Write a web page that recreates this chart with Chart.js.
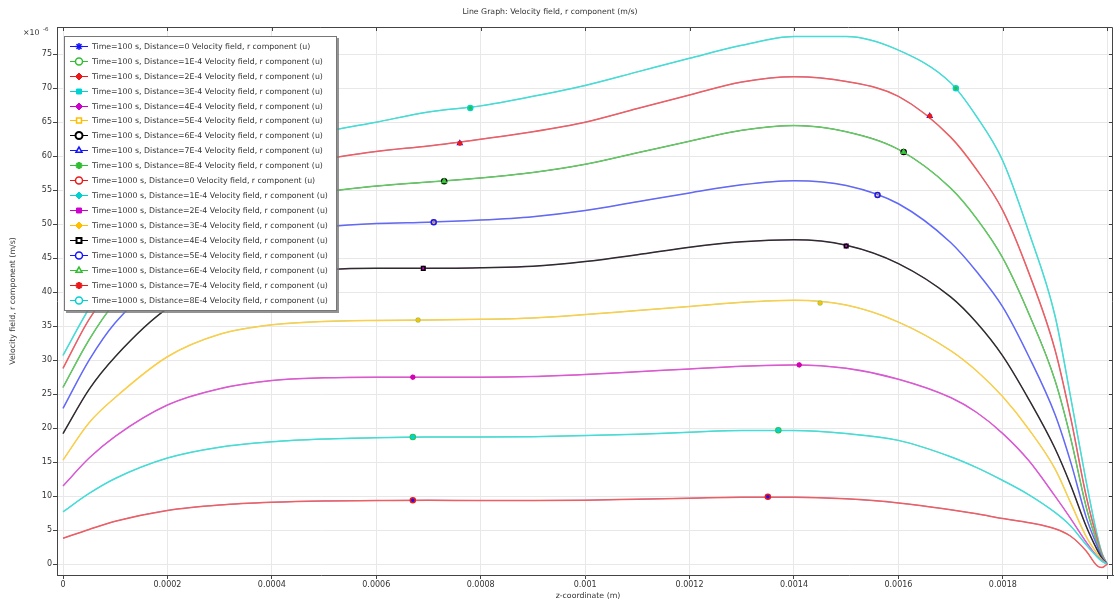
<!DOCTYPE html>
<html><head><meta charset="utf-8">
<script src="https://cdn.jsdelivr.net/npm/chart.js@4.4.1/dist/chart.umd.min.js"></script>
<style>html,body{margin:0;padding:0;background:#fff;}#wrap{width:1117px;height:603px;position:relative;}</style>
</head><body><div id="wrap"><canvas id="c" width="1117" height="603"></canvas></div>
<script>
// ---------- data (values in units of 1e-6 m/s) ----------
const zGrid = [0, 0.00005, 0.0001, 0.0002, 0.0003, 0.0004, 0.0005, 0.0006, 0.0007, 0.0008, 0.0009, 0.001, 0.0011, 0.0012, 0.0013, 0.0014, 0.0015, 0.0016, 0.0017, 0.00175, 0.0018, 0.00185, 0.0019, 0.00193, 0.00196, 0.00198, 0.00199, 0.002];
const curveD0 = [3.8, 5.1, 6.3, 7.9, 8.7, 9.1, 9.3, 9.35, 9.4, 9.35, 9.35, 9.4, 9.55, 9.7, 9.85, 9.85, 9.6, 9.0, 8.0, 7.4, 6.7, 6.1, 5.2, 4.1, 1.9, -0.2, -0.5, 0];
const curveD1 = [7.7, 10.4, 12.6, 15.6, 17.2, 18.0, 18.4, 18.6, 18.7, 18.7, 18.75, 18.9, 19.1, 19.4, 19.65, 19.65, 19.2, 18.2, 15.8, 14.2, 12.3, 10.2, 7.6, 5.6, 2.8, 1.1, 0.4, 0];
const curveD2 = [11.5, 15.6, 18.8, 23.4, 25.8, 27.0, 27.4, 27.5, 27.5, 27.5, 27.6, 27.9, 28.3, 28.7, 29.1, 29.3, 28.8, 27.2, 24.5, 22.3, 19.2, 15.2, 10.0, 6.7, 3.2, 1.2, 0.5, 0];
const curveD3 = [15.3, 20.8, 24.5, 30.5, 33.8, 35.2, 35.7, 35.85, 35.9, 36.0, 36.2, 36.7, 37.3, 37.9, 38.5, 38.8, 38.1, 35.6, 31.4, 28.4, 24.6, 19.8, 14.0, 9.0, 4.0, 1.6, 0.6, 0];
const curveD4 = [19.2, 25.7, 30.5, 37.6, 41.0, 42.7, 43.3, 43.5, 43.5, 43.6, 43.8, 44.5, 45.5, 46.6, 47.4, 47.7, 46.9, 44.2, 39.3, 35.5, 30.6, 24.2, 17.0, 11.6, 5.5, 2.2, 0.8, 0];
const curveD5 = [22.9, 30.0, 35.5, 42.5, 46.5, 48.7, 49.6, 50.1, 50.3, 50.6, 51.1, 52.0, 53.3, 54.6, 55.8, 56.4, 55.7, 53.0, 47.3, 43.0, 37.8, 30.5, 22.0, 15.0, 6.8, 2.8, 1.0, 0];
const curveD6 = [26.0, 33.0, 38.5, 45.5, 50.5, 53.2, 54.7, 55.6, 56.2, 56.8, 57.6, 58.8, 60.5, 62.2, 63.8, 64.5, 63.6, 61.0, 55.3, 50.8, 45.0, 36.8, 27.0, 18.5, 8.3, 3.3, 1.2, 0];
const curveD7 = [28.8, 36.0, 41.0, 48.5, 54.0, 57.5, 59.5, 60.7, 61.5, 62.5, 63.6, 65.0, 67.0, 69.0, 70.9, 71.7, 71.0, 68.8, 62.8, 58.0, 52.0, 42.8, 31.5, 21.5, 9.9, 3.9, 1.4, 0];
const curveD8 = [30.7, 37.6, 43.0, 51.0, 57.0, 61.0, 63.5, 65.0, 66.5, 67.4, 68.8, 70.4, 72.4, 74.4, 76.3, 77.6, 77.6, 75.6, 70.8, 65.8, 59.3, 48.8, 36.5, 24.5, 12.0, 4.5, 1.6, 0];

// marker positions along each curve (z, value)
const markZ = [[0.00067, 0.00135], [0.00067, 0.00137], [0.00067, 0.00141], [0.00068, 0.00145], [0.00069, 0.0015], [0.00071, 0.00156], [0.00073, 0.00161], [0.00076, 0.00166], [0.00078, 0.00171]];
const markV = [[9.4, 9.9], [18.7, 19.7], [27.5, 29.3], [35.9, 38.4], [43.5, 46.8], [50.3, 54.3], [56.3, 60.6], [61.9, 65.9], [67.1, 70.0]];

const times = ['100', '1000'];
const distances = ['0', '1E-4', '2E-4', '3E-4', '4E-4', '5E-4', '6E-4', '7E-4', '8E-4'];
const xTicks = [0, 0.0002, 0.0004, 0.0006, 0.0008, 0.001, 0.0012, 0.0014, 0.0016, 0.0018, 0.002];
const xTickLabels = ['0', '0.0002', '0.0004', '0.0006', '0.0008', '0.001', '0.0012', '0.0014', '0.0016', '0.0018', ''];
const yTicks = [0, 5, 10, 15, 20, 25, 30, 35, 40, 45, 50, 55, 60, 65, 70, 75];

// ---------- styles ----------
const COL = {
  blue: 'rgb(20,20,255)', green: 'rgb(50,190,50)', red: 'rgb(235,25,25)', cyan: 'rgb(0,210,210)',
  magenta: 'rgb(205,0,205)', yellow: 'rgb(255,190,0)', black: 'rgb(0,0,0)'
};
const LINECOL = {
  blue: 'rgb(95,105,255)', green: 'rgb(100,200,100)', red: 'rgb(240,95,95)', cyan: 'rgb(70,220,220)',
  magenta: 'rgb(215,90,215)', yellow: 'rgb(255,205,70)', black: 'rgb(45,45,45)'
};
const style100 = [
  {c: 'blue', p: 'star', f: true, bw: 1.5}, {c: 'green', p: 'circle', f: false, bw: 1.5},
  {c: 'red', p: 'rectRot', f: true, bw: 1}, {c: 'cyan', p: 'rect', f: true, bw: 1},
  {c: 'magenta', p: 'rectRot', f: true, bw: 1}, {c: 'yellow', p: 'rect', f: false, bw: 1.5},
  {c: 'black', p: 'circle', f: false, bw: 2}, {c: 'blue', p: 'triangle', f: false, bw: 1.5},
  {c: 'green', p: 'star', f: true, bw: 2}
];
const style1000 = [
  {c: 'red', p: 'circle', f: false, bw: 1.5}, {c: 'cyan', p: 'rectRot', f: true, bw: 1},
  {c: 'magenta', p: 'rect', f: true, bw: 1}, {c: 'yellow', p: 'rectRot', f: true, bw: 1},
  {c: 'black', p: 'rect', f: false, bw: 2}, {c: 'blue', p: 'circle', f: false, bw: 1.5},
  {c: 'green', p: 'triangle', f: false, bw: 1.5}, {c: 'red', p: 'star', f: true, bw: 2},
  {c: 'cyan', p: 'circle', f: false, bw: 1.5}
];

const curves = [curveD0, curveD1, curveD2, curveD3, curveD4, curveD5, curveD6, curveD7, curveD8];
const datasets = [];
times.forEach((t, ti) => {
  const st = ti === 0 ? style100 : style1000;
  curves.forEach((vals, di) => {
    const s = st[di];
    datasets.push({
      label: 'Time=' + t + ' s, Distance=' + distances[di] + ' Velocity field, r component (u)',
      data: zGrid.map((z, k) => ({x: z, y: vals[k]})),
      borderColor: LINECOL[s.c], backgroundColor: LINECOL[s.c], borderWidth: ti === 0 ? 0.8 : 1.5,
      pointRadius: 0, cubicInterpolationMode: 'monotone', fill: false,
      order: ti === 0 ? 40 : 30, legendStyle: s
    });
  });
});
times.forEach((t, ti) => {
  const st = ti === 0 ? style100 : style1000;
  curves.forEach((vals, di) => {
    const s = st[di];
    datasets.push({
      label: '', isMarker: true, showLine: false,
      data: markZ[di].map((z, k) => ({x: z, y: markV[di][k]})),
      borderColor: COL[s.c], backgroundColor: s.f ? COL[s.c] : 'rgba(255,255,255,0)',
      pointStyle: s.p, pointRadius: 2.5, pointBorderWidth: Math.min(s.bw, 1.5), pointHoverRadius: 2.5,
      order: ti === 0 ? 20 : 10
    });
  });
});

const FONT = '"DejaVu Sans", "Noto Sans", sans-serif';
const TXT = '#333';

const decor = {
  id: 'decor',
  afterDraw(chart) {
    const ctx = chart.ctx, a = chart.chartArea;
    const xs = chart.scales.x, ys = chart.scales.y;
    ctx.save();
    // frame top/right with inward ticks
    ctx.strokeStyle = '#444'; ctx.lineWidth = 1;
    ctx.beginPath();
    ctx.moveTo(a.left, a.top + 0.5); ctx.lineTo(a.right - 0.5, a.top + 0.5); ctx.lineTo(a.right - 0.5, a.bottom);
    xTicks.forEach(v => { const px = Math.round(xs.getPixelForValue(v)) + 0.5; ctx.moveTo(px, a.top); ctx.lineTo(px, a.top + 4); });
    yTicks.forEach(v => { const py = Math.round(ys.getPixelForValue(v)) + 0.5; ctx.moveTo(a.right, py); ctx.lineTo(a.right - 4, py); });
    ctx.stroke();

    // legend box
    const lx = 64, ly = 36, lw = 273, lh = 275;
    ctx.fillStyle = 'rgba(120,120,120,0.8)';
    ctx.fillRect(lx + 2, ly + 2, lw, lh);
    ctx.fillStyle = '#fff';
    ctx.fillRect(lx, ly, lw, lh);
    ctx.strokeStyle = '#777'; ctx.lineWidth = 1;
    ctx.strokeRect(lx + 0.5, ly + 0.5, lw - 1, lh - 1);
    ctx.font = '7.8px ' + FONT;
    ctx.textBaseline = 'middle'; ctx.textAlign = 'left';
    const items = chart.data.datasets.filter(d => !d.isMarker);
    items.forEach((d, i) => {
      const y = Math.round(45.7 + i * 14.95) + 0.5;
      const s = d.legendStyle;
      ctx.strokeStyle = COL[s.c]; ctx.lineWidth = 1;
      ctx.beginPath(); ctx.moveTo(70, y); ctx.lineTo(88, y); ctx.stroke();
      ctx.strokeStyle = COL[s.c];
      ctx.fillStyle = s.f ? COL[s.c] : '#fff';
      ctx.lineWidth = s.bw;
      if (Chart.helpers && Chart.helpers.drawPoint) {
        Chart.helpers.drawPoint(ctx, {pointStyle: s.p, radius: 3.5, borderWidth: s.bw, rotation: 0}, 79, y);
      } else {
        ctx.beginPath(); ctx.arc(79, y, 3, 0, Math.PI * 2); ctx.fill(); ctx.stroke();
      }
      ctx.fillStyle = TXT;
      ctx.fillText(d.label, 92, y);
    });

    // texts
    ctx.fillStyle = TXT;
    ctx.font = '7.8px ' + FONT;
    ctx.textAlign = 'center'; ctx.textBaseline = 'middle';
    ctx.fillText('Line Graph: Velocity field, r component (m/s)', 550, 12);
    ctx.fillText('z-coordinate (m)', 588, 596);
    ctx.save();
    ctx.translate(13, 301); ctx.rotate(-Math.PI / 2);
    ctx.fillText('Velocity field, r component (m/s)', 0, 0);
    ctx.restore();
    ctx.textAlign = 'left';
    ctx.fillText('\u00d710', 23, 33);
    ctx.font = '5.5px ' + FONT;
    ctx.fillText('-6', 43, 30);
    ctx.restore();
  }
};

new Chart(document.getElementById('c'), {
  type: 'line',
  data: {datasets},
  options: {
    responsive: false, animation: false, devicePixelRatio: 1,
    layout: {padding: {left: 0, top: 27, right: 2, bottom: 0}},
    plugins: {legend: {display: false}, title: {display: false}, tooltip: {enabled: false}},
    events: [],
    scales: {
      x: {
        type: 'linear', min: -0.0000115, max: 0.002011,
        afterFit: s => { s.height = 28; },
        afterBuildTicks: s => { s.ticks = xTicks.map(v => ({value: v})); },
        ticks: {
          autoSkip: false, maxRotation: 0, padding: 1, color: TXT,
          font: {family: FONT, size: 8},
          callback: (v) => { const i = xTicks.findIndex(t => Math.abs(t - v) < 1e-9); return i >= 0 ? xTickLabels[i] : ''; }
        },
        grid: {color: 'rgb(232,232,232)', tickColor: '#444', tickLength: 4, drawTicks: true},
        border: {display: true, color: '#444', width: 1}
      },
      y: {
        type: 'linear', min: -1.6, max: 79.0,
        afterFit: s => { s.width = 57; },
        afterBuildTicks: s => { s.ticks = yTicks.map(v => ({value: v})); },
        ticks: {
          autoSkip: false, padding: 1, color: TXT,
          font: {family: FONT, size: 8},
          callback: v => String(v)
        },
        grid: {color: 'rgb(232,232,232)', tickColor: '#444', tickLength: 4, drawTicks: true},
        border: {display: true, color: '#444', width: 1}
      }
    }
  },
  plugins: [decor]
});
</script>
</body></html>
